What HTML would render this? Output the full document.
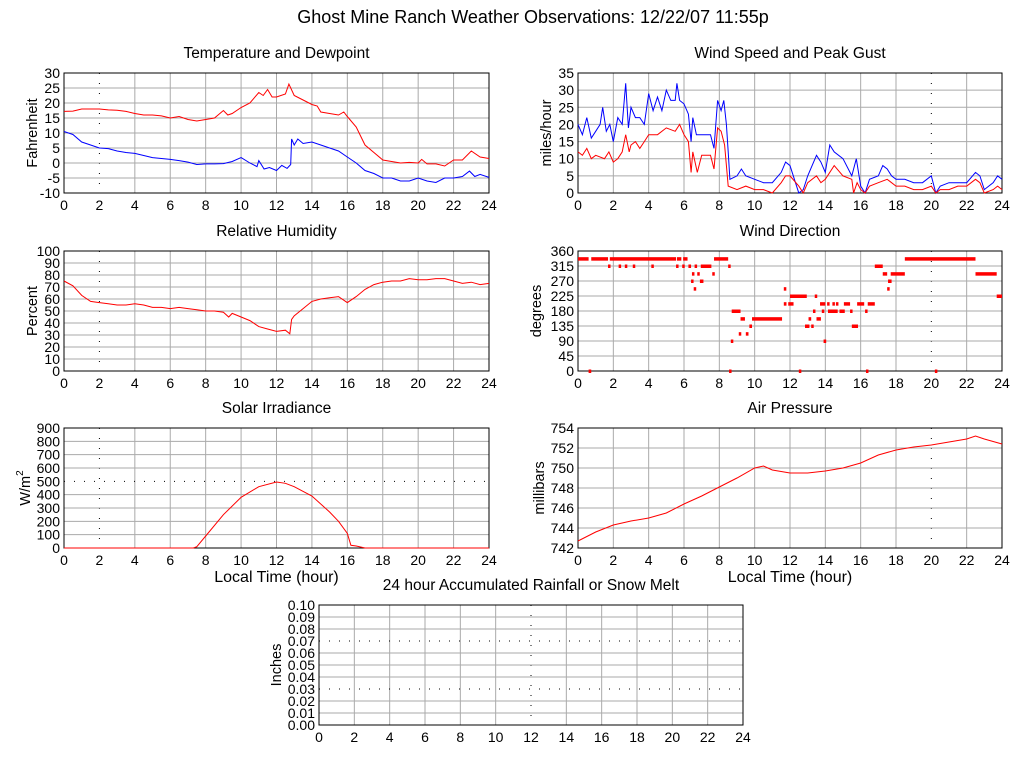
<!DOCTYPE html>
<html><head><meta charset="utf-8"><style>
body{margin:0;background:#fff;}
svg{display:block;font-family:"Liberation Sans",sans-serif;}
</style></head><body>
<svg id="c" width="1024" height="768" viewBox="0 0 1024 768"></svg>
<script>
const hours=[0,2,4,6,8,10,12,14,16,18,20,22,24];
const tempT=[0,0.5,1,1.5,2,2.5,3,3.5,4,4.5,5,5.5,6,6.5,7,7.5,8,8.5,9,9.25,9.5,10,10.5,11,11.25,11.5,11.75,12,12.5,12.7,13,13.5,14,14.3,14.5,15,15.5,15.8,16,16.5,17,17.5,18,18.5,19,19.5,20,20.2,20.5,21,21.5,22,22.5,23,23.5,24];
const tempV=[17.2,17.3,18,18,18,17.7,17.6,17.2,16.5,16,16,15.7,15,15.5,14.5,14,14.5,15,17.5,16,16.5,18.5,20,23.5,22.5,24.5,22,22,23,26.3,22.5,21,19.5,19,17,16.5,16,17,15.5,12,6,3.5,1,0.5,0,0.2,0,1.2,-0.3,-0.3,-1,1,1,4,2,1.5];
const dewT=[0,0.5,1,1.5,2,2.5,3,3.5,4,4.5,5,5.5,6,6.5,7,7.5,8,8.5,9,9.5,10,10.5,10.9,11,11.3,11.6,12,12.3,12.6,12.8,12.85,13,13.2,13.5,14,14.5,15,15.5,16,16.5,17,17.5,18,18.5,19,19.5,20,20.5,21,21.5,22,22.5,22.9,23.2,23.5,24];
const dewV=[10.5,9.5,7,6,5,4.8,4,3.5,3.2,2.5,1.8,1.5,1.2,0.8,0.3,-0.5,-0.3,-0.3,-0.2,0.5,1.8,0,-1.2,0.8,-2,-1.5,-2.5,-0.8,-1.8,-0.5,8,6,8,6.5,7,6,5,4,2,0,-2.5,-3.5,-5,-5,-6,-6,-5,-6,-6.5,-5,-5,-4.5,-2.7,-4.5,-3.8,-4.8];
const gustT=[0,0.25,0.5,0.75,1,1.25,1.4,1.6,1.8,2,2.25,2.5,2.7,2.85,3,3.25,3.5,3.75,4,4.25,4.5,4.75,5,5.25,5.5,5.6,5.75,6,6.25,6.4,6.5,6.7,7,7.5,7.7,7.9,8.1,8.25,8.4,8.5,8.6,9,9.25,9.5,10,10.5,11,11.5,11.75,12,12.25,12.5,12.75,13,13.5,13.75,14,14.25,14.5,15,15.5,15.75,16,16.25,16.5,17,17.25,17.5,17.75,18,18.5,19,19.5,20,20.25,20.5,21,21.5,22,22.5,22.75,23,23.5,23.75,24];
const gustV=[20,17,22,16,18,20,25,18,20,15,22,20,32,19,25,22,22,20,29,24,28,24,30,27,27,32,27,26,23,15,22,17,17,17,13,27,24,27,20,12,4,5,7,5,4,3,3,6,9,8,4,0,1,5,11,9,6,14,12,10,5,10,2,0,4,5,8,7,5,4,4,3,3,5,0,2,3,3,3,6,5,1,3,5,4];
const speedT=[0,0.25,0.5,0.75,1,1.5,1.75,2,2.25,2.5,2.7,2.9,3,3.25,3.5,3.75,4,4.5,5,5.5,5.75,6,6.25,6.4,6.5,6.75,7,7.5,7.7,7.9,8.1,8.3,8.5,9,9.5,10,10.5,11,11.5,11.75,12,12.5,12.75,13,13.5,13.75,14,14.5,15,15.5,15.6,15.8,16,16.25,16.5,17,17.5,18,18.5,19,19.5,20,20.25,20.5,21,21.5,22,22.5,22.75,23,23.5,23.75,24];
const speedV=[12,11,13,10,11,10,12,9,10,12,17,12,14,15,13,15,17,17,19,18,20,17,15,6,12,6,11,11,7,19,18,14,2,1,2,1,1,0,3,5,5,2,0,3,5,3,4,8,5,4,0,3,1,0,2,3,4,2,2,1,1,2,0,1,1,2,2,4,3,0,1,2,1];
const dirStart=[0,0.6,0.75,1.7,1.8,2.3,2.65,3.1,4.15,5.55,5.6,5.95,5.9,6.25,6.6,6.45,6.75,7.6,6.4,6.9,6.55,6.95,7.7,8.5,8.55,8.65,8.7,9.1,9.5,9.2,9.7,9.85,11.65,11.65,11.9,12.0,12.5,12.85,13.05,13.2,13.3,13.4,13.5,13.7,13.8,13.9,14.1,14.15,14.4,14.6,14.8,15.05,15.4,15.5,15.8,16.25,16.3,16.4,16.8,17.25,17.5,17.55,17.7,18.5,20.2,22.5,23.7];
const dirEnd=[0.6,0.75,1.7,1.8,5.55,2.37,2.72,3.17,4.22,5.62,5.85,6.2,5.97,6.4,6.67,6.52,6.82,7.67,6.47,7.1,6.62,7.55,8.5,8.57,8.62,8.72,9.2,9.17,9.65,9.45,9.85,11.55,11.72,11.8,12.2,12.95,12.55,13.1,13.2,13.25,13.37,13.47,13.75,14.0,13.87,14.05,14.17,14.7,14.47,14.67,15.1,15.4,15.47,15.85,16.2,16.32,16.37,16.8,17.25,17.5,17.57,17.75,18.5,22.5,20.27,23.7,24];
const dirV=[337,0,337,315,337,315,315,315,315,315,337,337,315,315,315,292,292,292,270,270,247,315,337,315,0,90,180,112,112,157,135,157,247,202,202,225,0,135,157,135,180,225,157,202,180,90,202,180,202,202,180,202,180,135,202,180,0,202,315,292,247,270,292,337,0,292,225];
const humT=[0,0.5,1,1.5,2,2.5,3,3.5,4,4.5,5,5.5,6,6.5,7,7.5,8,8.5,9,9.3,9.5,10,10.5,11,11.5,12,12.5,12.75,12.85,13,13.5,14,14.5,15,15.5,16,16.5,17,17.5,18,18.5,19,19.5,20,20.5,21,21.5,22,22.5,23,23.5,24];
const humV=[75,71,63,58,57,56,55,55,56,55,53,53,52,53,52,51,50,50,49,45,48,45,42,37,35,33,34,31,43,46,52,58,60,61,62,57,62,68,72,74,75,75,77,76,76,77,77,75,73,74,72,73];
const solT=[0,7.3,7.5,8,9,10,11,12,12.5,13,14,15,15.5,16,16.2,16.5,17,24];
const solV=[0,0,10,90,250,380,460,495,485,460,390,270,200,110,20,15,0,0];
const presT=[0,1,2,3,4,5,6,7,8,9,10,10.5,11,12,13,14,15,16,17,18,19,20,21,22,22.5,23,24];
const presV=[742.7,743.6,744.3,744.7,745.0,745.5,746.4,747.2,748.1,749.0,750.0,750.2,749.8,749.5,749.5,749.7,750.0,750.5,751.3,751.8,752.1,752.3,752.6,752.9,753.2,752.9,752.4];
const rainT=[];
const rainV=[];

const svg=document.getElementById('c');
const NS='http://www.w3.org/2000/svg';
function el(tag,attrs,parent){const e=document.createElementNS(NS,tag);for(const k in attrs)e.setAttribute(k,attrs[k]);(parent||svg).appendChild(e);return e;}
function txt(s,x,y,size,anchor,parent){const t=el('text',{x:x,y:y,'font-size':size,'text-anchor':anchor||'middle',fill:'#000'},parent);t.textContent=s;return t;}

function panel(o){
  const g=el('g',{});
  
  
  const x0=o.x0,x1=o.x1,y0=o.y0,y1=o.y0+120;
  const sx=h=>x0+(x1-x0)*h/24;
  const sy=v=>y1-(y1-y0)*(v-o.ymin)/(o.ymax-o.ymin);
  o.sx=sx;o.sy=sy;
  const t=txt(o.title,(x0+x1)/2,y0-15,15.5,'middle',g);
  
  
  const grid=el('g',{},g);
  
  
  hours.forEach(h=>{
    const dotted=o.vdot&&o.vdot.includes(h);
    el('line',{x1:sx(h),x2:sx(h),y1:y0,y2:y1,stroke:dotted?'#000':'#aaa','stroke-width':1,'stroke-dasharray':dotted?'1,9':'none'},grid);
    const l=txt(String(h),sx(h),y1+17,14,'middle',g);
    
    
  });
  o.yticks.forEach((v,i)=>{
    const dotted=o.hdot&&o.hdot.includes(i);
    el('line',{x1:x0,x2:x1,y1:sy(v),y2:sy(v),stroke:dotted?'#000':'#aaa','stroke-width':1,'stroke-dasharray':dotted?'1,9':'none'},grid);
    const l=txt(o.ylabels[i],x0-4,sy(v)+5,14,'end',g);
    
    
  });
  el('rect',{x:x0,y:y0,width:x1-x0,height:120,fill:'none',stroke:'#000','stroke-width':1},g);
  const yt=el('text',{x:0,y:0,'font-size':14.5,'text-anchor':'middle',transform:`translate(${o.ytx},${(y0+y1)/2}) rotate(-90)`},g);
  yt.innerHTML=o.ytitle;
  
  
  if(o.xtitle){const xt=txt(o.xtitle,(x0+x1)/2,y1+34,16,'middle',g);
    
    }
  o.g=g;return o;
}
function line(p,T,V,color,name){
  if(!T.length)return;
  const d=T.map((t,i)=>(i?'L':'M')+p.sx(t).toFixed(1)+','+p.sy(V[i]).toFixed(1)).join('');
  const e=el('path',{d:d,fill:'none',stroke:color,'stroke-width':1},p.g);
  
  
}
function rng(a,b,s){const r=[];for(let v=a;v<=b+1e-9;v+=s)r.push(+v.toFixed(4));return r;}

const title=txt('Ghost Mine Ranch Weather Observations: 12/22/07 11:55p',533,23,18,'middle');



let yt=rng(-10,30,5);
const p1=panel({name:'temperature-panel',title:'Temperature and Dewpoint',x0:64,x1:489,y0:73,ymin:-10,ymax:30,yticks:yt,ylabels:yt.map(String),ytitle:'Fahrenheit',ytx:37,vdot:[2]});
line(p1,tempT,tempV,'#f00','temperature-line');
line(p1,dewT,dewV,'#00f','dewpoint-line');

yt=rng(0,35,5);
const p2=panel({name:'wind-speed-panel',title:'Wind Speed and Peak Gust',x0:578,x1:1002,y0:73,ymin:0,ymax:35,yticks:yt,ylabels:yt.map(String),ytitle:'miles/hour',ytx:551,vdot:[20]});
line(p2,gustT,gustV,'#00f','gust-line');
line(p2,speedT,speedV,'#f00','speed-line');

yt=rng(0,100,10);
const p3=panel({name:'humidity-panel',title:'Relative Humidity',x0:64,x1:489,y0:251,ymin:0,ymax:100,yticks:yt,ylabels:yt.map(String),ytitle:'Percent',ytx:37,vdot:[2]});
line(p3,humT,humV,'#f00','humidity-line');

yt=rng(0,360,45);
const p4=panel({name:'wind-direction-panel',title:'Wind Direction',x0:578,x1:1002,y0:251,ymin:0,ymax:360,yticks:yt,ylabels:yt.map(String),ytitle:'degrees',ytx:541,vdot:[20]});
dirStart.forEach((s,i)=>{
  const r=el('rect',{x:p4.sx(s),y:p4.sy(dirV[i])-1.5,width:Math.max(2.5,p4.sx(dirEnd[i])-p4.sx(s)),height:3.5,fill:'#f00'},p4.g);
  
  
});

yt=rng(0,900,100);
const p5=panel({name:'solar-panel',title:'Solar Irradiance',x0:64,x1:489,y0:428,ymin:0,ymax:900,yticks:yt,ylabels:yt.map(String),ytitle:'W/m<tspan font-size="10" dy="-7">2</tspan>',ytx:30,vdot:[2],hdot:[5],xtitle:'Local Time (hour)'});
line(p5,solT,solV,'#f00','solar-line');

yt=rng(742,754,2);
const p6=panel({name:'pressure-panel',title:'Air Pressure',x0:578,x1:1002,y0:428,ymin:742,ymax:754,yticks:yt,ylabels:yt.map(String),ytitle:'millibars',ytx:544,vdot:[20],xtitle:'Local Time (hour)'});
line(p6,presT,presV,'#f00','pressure-line');

yt=rng(0,0.1,0.01);
const p7=panel({name:'rainfall-panel',title:'24 hour Accumulated Rainfall or Snow Melt',x0:319,x1:743,y0:605,ymin:0,ymax:0.1,yticks:yt,ylabels:yt.map(v=>v.toFixed(2)),ytitle:'Inches',ytx:281,vdot:[12],hdot:[3,7]});
line(p7,rainT,rainV,'#f00','rainfall-line');
</script>
</body></html>
